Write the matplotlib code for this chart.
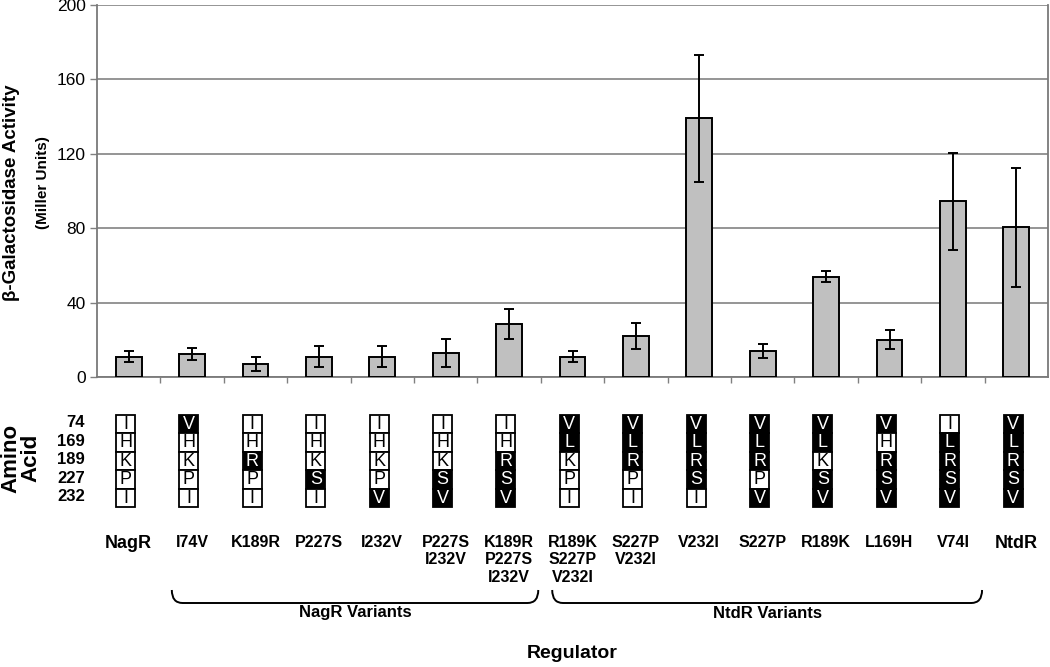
import matplotlib.pyplot as plt
from matplotlib.patches import Rectangle, PathPatch
from matplotlib.path import Path

plt.rcParams['font.family'] = ['Liberation Sans', 'DejaVu Sans']

# data
regulators = ["NagR", "I74V", "K189R", "P227S", "I232V", "P227S\nI232V",
              "K189R\nP227S\nI232V", "R189K\nS227P\nV232I", "S227P\nV232I",
              "V232I", "S227P", "R189K", "L169H", "V74I", "NtdR"]
activity = [11, 12.4, 7, 11, 11, 13, 28.5, 11, 22, 139, 14, 54, 20, 94.5, 80.5]
errors = [3, 3, 4, 5.4, 5.7, 7.6, 8, 2.8, 7, 34, 4, 3, 5, 26, 32]

positions = ["74", "169", "189", "227", "232"]
residues = ["IHKPI", "VHKPI", "IHRPI", "IHKSI", "IHKPV", "IHKSV", "IHRSV",
            "VLKPI", "VLRPI", "VLRSI", "VLRPV", "VLKSV", "VHRSV", "ILRSV",
            "VLRSV"]
ntdr_residues = "VLRSV"

groups = [("NagR Variants", 1, 6), ("NtdR Variants", 7, 13)]

W, H = 1050, 667
fig = plt.figure(figsize=(W / 100, H / 100), dpi=100)
ax = fig.add_axes([97 / W, 1 - 377 / H, 951 / W, 372 / H])

x = list(range(len(regulators)))
ax.bar(x, activity, width=0.41, color="#c0c0c0", edgecolor="black",
       linewidth=1.4, zorder=3)
ax.errorbar(x, activity, yerr=errors, fmt="none", ecolor="black",
            elinewidth=1.4, capsize=3.6, capthick=1.4, zorder=4)

ax.set_xlim(-0.5, len(regulators) - 0.5)
ax.set_ylim(0, 200)
ax.set_yticks([0, 40, 80, 120, 160, 200])
ax.tick_params(axis="y", labelsize=12.5, direction="out", length=5,
               color="#808080", width=1, pad=3)
ax.set_xticks([i + 0.5 for i in x[:-1]])
ax.tick_params(axis="x", labelbottom=False, direction="out", length=4,
               color="#808080", width=1)
ax.grid(axis="y", color="#8c8c8c", linewidth=1.3, zorder=0)
for s in ["left", "bottom", "right"]:
    ax.spines[s].set_color("#7a7a7a")
    ax.spines[s].set_linewidth(1.3)
ax.spines["top"].set_visible(False)

fig.text(12 / W, 1 - 193 / H, "\u03b2-Galactosidase Activity", rotation=90,
         ha="center", va="center", fontsize=13.5, fontweight="bold")
fig.text(43 / W, 1 - 183 / H, "(Miller Units)", rotation=90,
         ha="center", va="center", fontsize=11, fontweight="bold")

# lower panel in pixel rows
ax2 = fig.add_axes([97 / W, 0, 951 / W, 1 - 377 / H])
ax2.set_xlim(-0.5, len(regulators) - 0.5)
ax2.set_ylim(H, 377)
ax2.axis("off")

cell_w, cell_h, top = 0.3, 18.5, 414.5
for i, seq in enumerate(residues):
    cx = i - 0.05
    for j, aa in enumerate(seq):
        dark = aa == ntdr_residues[j]
        y0 = top + j * cell_h
        ax2.add_patch(Rectangle((cx - cell_w / 2, y0), cell_w, cell_h,
                                facecolor="black" if dark else "white",
                                edgecolor="black", linewidth=1.3))
        ax2.text(cx, y0 + cell_h / 2 + 0.5, aa, ha="center", va="center",
                 fontsize=13, color="white" if dark else "black")

for j, p in enumerate(positions):
    fig.text(85 / W, 1 - (top + (j + 0.5) * cell_h - 1) / H, p, ha="right",
             va="center", fontsize=12, fontweight="bold")
fig.text(21 / W, 1 - 458 / H, "Amino\nAcid", rotation=90, ha="center",
         va="center", fontsize=16, fontweight="bold", linespacing=0.9)

for i, lab in enumerate(regulators):
    if i == 0 or i == len(regulators) - 1:
        ax2.text(i, 544, lab, ha="center", va="center", fontsize=13,
                 fontweight="bold")
    else:
        ax2.text(i, 535, lab, ha="center", va="top", fontsize=11.5,
                 fontweight="bold", linespacing=1.2)

for name, a, b in groups:
    x0, x1 = a - 0.32, b + 0.46
    yt, yb, r = 590, 603, 0.17
    verts = [(x0, yt), (x0, yb), (x0 + r, yb), (x1 - r, yb), (x1, yb), (x1, yt)]
    codes = [Path.MOVETO, Path.CURVE3, Path.CURVE3, Path.LINETO,
             Path.CURVE3, Path.CURVE3]
    ax2.add_patch(PathPatch(Path(verts, codes), facecolor="none",
                            edgecolor="black", linewidth=1.4))
    ax2.text((x0 + x1) / 2, 613, name, ha="center", va="center",
             fontsize=12, fontweight="bold")

ax2.text((len(regulators) - 1) / 2, 653, "Regulator", ha="center",
         va="center", fontsize=14, fontweight="bold")

fig.savefig("out.png", dpi=100)
